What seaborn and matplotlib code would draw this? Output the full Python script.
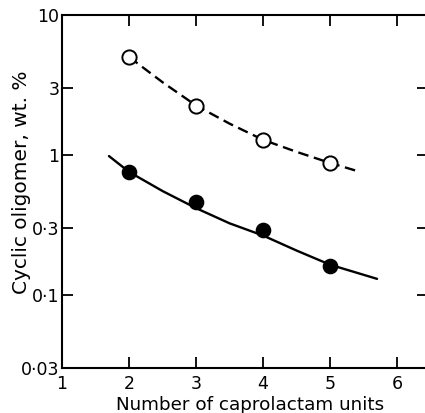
import matplotlib
matplotlib.use("Agg")
import matplotlib.pyplot as plt
import seaborn as sns

# measured points
units = [2, 3, 4, 5]
open_vals = [5.0, 2.25, 1.28, 0.875]
filled_vals = [0.75, 0.46, 0.29, 0.16]

# fitted curves
dash_x = [2.0, 2.5, 3.0, 3.5, 4.0, 4.5, 5.0, 5.45]
dash_y = [5.0, 3.30, 2.25, 1.67, 1.28, 1.05, 0.875, 0.755]
solid_x = [1.7, 2.0, 2.5, 3.0, 3.5, 4.0, 4.5, 5.0, 5.7]
solid_y = [0.98, 0.755, 0.551, 0.416, 0.324, 0.265, 0.207, 0.164, 0.130]

x_ticks = [1, 2, 3, 4, 5, 6]
y_ticks = [0.03, 0.1, 0.3, 1, 3, 10]
y_labels = ["0·03", "0·1", "0·3", "1", "3", "10"]

sns.set_style("ticks")
plt.rcParams['font.family'] = ['DejaVu Sans']

fig = plt.figure(figsize=(4.25, 4.13), dpi=100)
# right edge runs just past the picture, as in the scan
ax = fig.add_axes([0.146, 0.109, 0.861, 0.855])

sns.lineplot(x=dash_x, y=dash_y, ax=ax, color='black', lw=1.7,
             sort=False, zorder=2)
ax.lines[-1].set_dashes((4.5, 2.4))
sns.lineplot(x=solid_x, y=solid_y, ax=ax, color='black', lw=1.7,
             sort=False, zorder=2)

sns.scatterplot(x=units, y=open_vals, ax=ax, s=105, color='white',
                edgecolor='black', linewidth=1.4, zorder=3)
sns.scatterplot(x=units, y=filled_vals, ax=ax, s=105, color='black',
                edgecolor='black', linewidth=1.0, zorder=3)

ax.set_yscale('log')
ax.set_xlim(1, 6.46)
ax.set_ylim(0.03, 10)
ax.set_xticks(x_ticks)
ax.set_yticks(y_ticks)
ax.set_yticklabels(y_labels)
ax.minorticks_off()

ax.tick_params(direction='in', length=8, width=1.3, labelsize=12.5,
               top=True, right=True, colors='black')
ax.tick_params(axis='x', pad=5)
ax.tick_params(axis='y', pad=2)
for sp in ax.spines.values():
    sp.set_linewidth(1.5)
    sp.set_color('black')

ax.set_xlabel('Number of caprolactam units', fontsize=13.2, color='black')
ax.set_ylabel('Cyclic oligomer, wt. %', fontsize=14.5, color='black')
ax.xaxis.set_label_coords(0.515, -0.08)
ax.yaxis.set_label_coords(-0.085, 0.527)

fig.savefig('out.png', dpi=100)
